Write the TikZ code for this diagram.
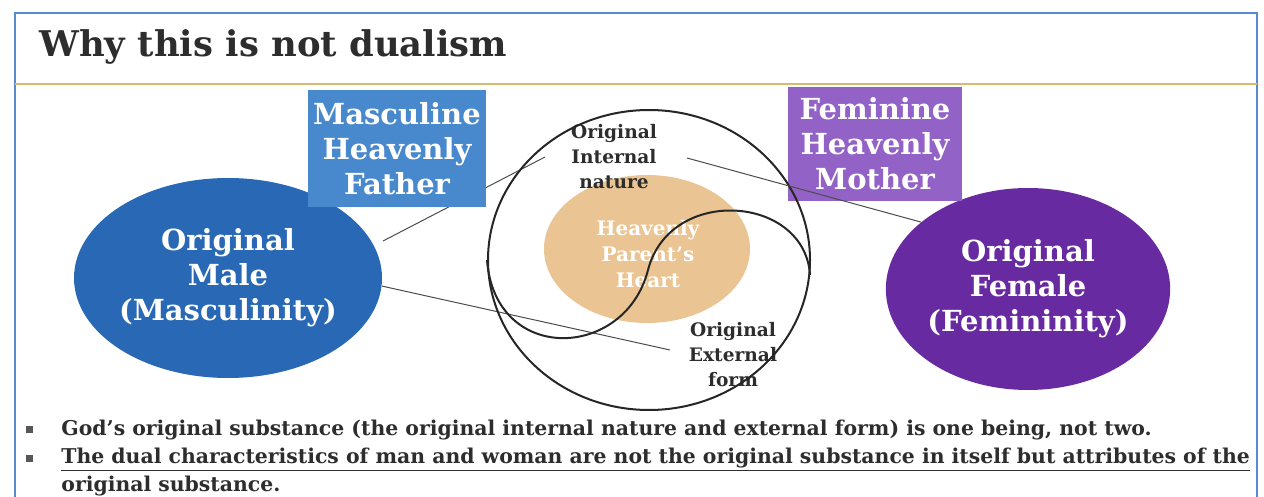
\documentclass[tikz,border=0pt]{standalone}
\usepackage{fontspec}
\setmainfont{DejaVu Serif}
\usetikzlibrary{shapes, positioning}
\definecolor{framec}{RGB}{88,138,208}
\definecolor{rulec}{RGB}{214,186,112}
\definecolor{boxblue}{RGB}{72,136,204}
\definecolor{malec}{RGB}{40,104,180}
\definecolor{boxpurple}{RGB}{146,98,198}
\definecolor{femalec}{RGB}{104,42,160}
\definecolor{heartc}{RGB}{234,196,146}
\definecolor{inkc}{RGB}{45,45,45}
\tikzstyle{heading} = [anchor=base west, inner sep=0, text=inkc, font=\bfseries\fontsize{17.7}{21}\selectfont]
\tikzstyle{parent} = [rectangle, text=white, align=center, inner sep=0, font=\bfseries\fontsize{14.5}{17.5}\selectfont]
\tikzstyle{oval} = [ellipse, text=white, align=center, inner sep=0, font=\bfseries\fontsize{14.5}{17.5}\selectfont]
\tikzstyle{tag} = [align=center, inner sep=0, text=inkc, font=\bfseries\fontsize{9.3}{12.5}\selectfont]
\tikzstyle{link} = [draw=inkc!85, line width=0.5pt]
\tikzstyle{ring} = [draw=black!85, line width=1pt]
\tikzstyle{dot} = [rectangle, fill=inkc!80, minimum size=3.5pt, inner sep=0]
\tikzstyle{point} = [anchor=base west, inner sep=0, text=inkc, font=\bfseries\fontsize{10.2}{14}\selectfont]

\begin{document}
\begin{tikzpicture}[x=0.5pt, y=-0.5pt]
  \useasboundingbox (0,0) rectangle (1264,497);
  % Rahmen und Titel
  \draw[draw=framec, line width=1pt] (15,13) rectangle (1257,520);
  \draw[draw=rulec, line width=0.8pt] (15,84) -- (1257,84);
  \node[heading] (title) at (39,57) {Why this is not dualism};

  % Ellipsen links und rechts
  \node[oval, fill=malec, minimum width=141pt, minimum height=100pt] (male) at (228,278) {Original\\Male\\(Masculinity)};
  \node[oval, fill=femalec, minimum width=137pt, minimum height=101pt] (female) at (1028,289) {Original\\Female\\(Femininity)};

  % Herz in der Mitte
  \node[ellipse, fill=heartc, minimum width=103pt, minimum height=74pt] (heart) at (647,249) {};
  \node[tag, text=white, font=\bfseries\fontsize{10}{12.8}\selectfont] (heartlbl) at (648,254) {Heavenly\\Parent's\\Heart};

  % Beschriftungen
  \node[tag] (internal) at (614,157) {Original\\Internal\\nature};
  \node[tag] (external) at (733,355) {Original\\External\\form};

  % freie Enden der Linien
  \coordinate (m1) at (383,241);
  \coordinate (i1) at (545,157);
  \coordinate (e1) at (670,350);
  \coordinate (i2) at (687,158);

  % Linien
  \draw[link] (m1) -- (i1);
  \draw[link] (male.-3) -- (e1);

  % Kästen
  \node[parent, fill=boxblue, minimum width=89pt, minimum height=58.5pt] (father) at (397,149) {Masculine\\Heavenly\\Father};
  \node[parent, fill=boxpurple, minimum width=87pt, minimum height=57pt] (mother) at (875,144) {Feminine\\Heavenly\\Mother};

  % Kreis und S-Linie
  \node[ellipse, ring, minimum width=161pt, minimum height=150pt] (whole) at (649,260) {};
  \draw[ring] (whole.west) .. controls (495,365) and (625,360) .. (648,270)
    .. controls (670,185) and (805,195) .. (810,275);
  \draw[link] (i2) -- (female.148);

  % Aufzählung
  \node[dot] (d1) at (29,429) {};
  \node[dot] (d2) at (29,458) {};
  \node[point] (p1) at (61,435) {God's original substance (the original internal nature and external form) is one being, not two.};
  \node[point] (p2) at (61,463) {\underline{The dual characteristics of man and woman are not the original substance in itself but attributes of the}};
  \node[point] (p3) at (61,491) {\underline{original substance.}};
\end{tikzpicture}
\end{document}
